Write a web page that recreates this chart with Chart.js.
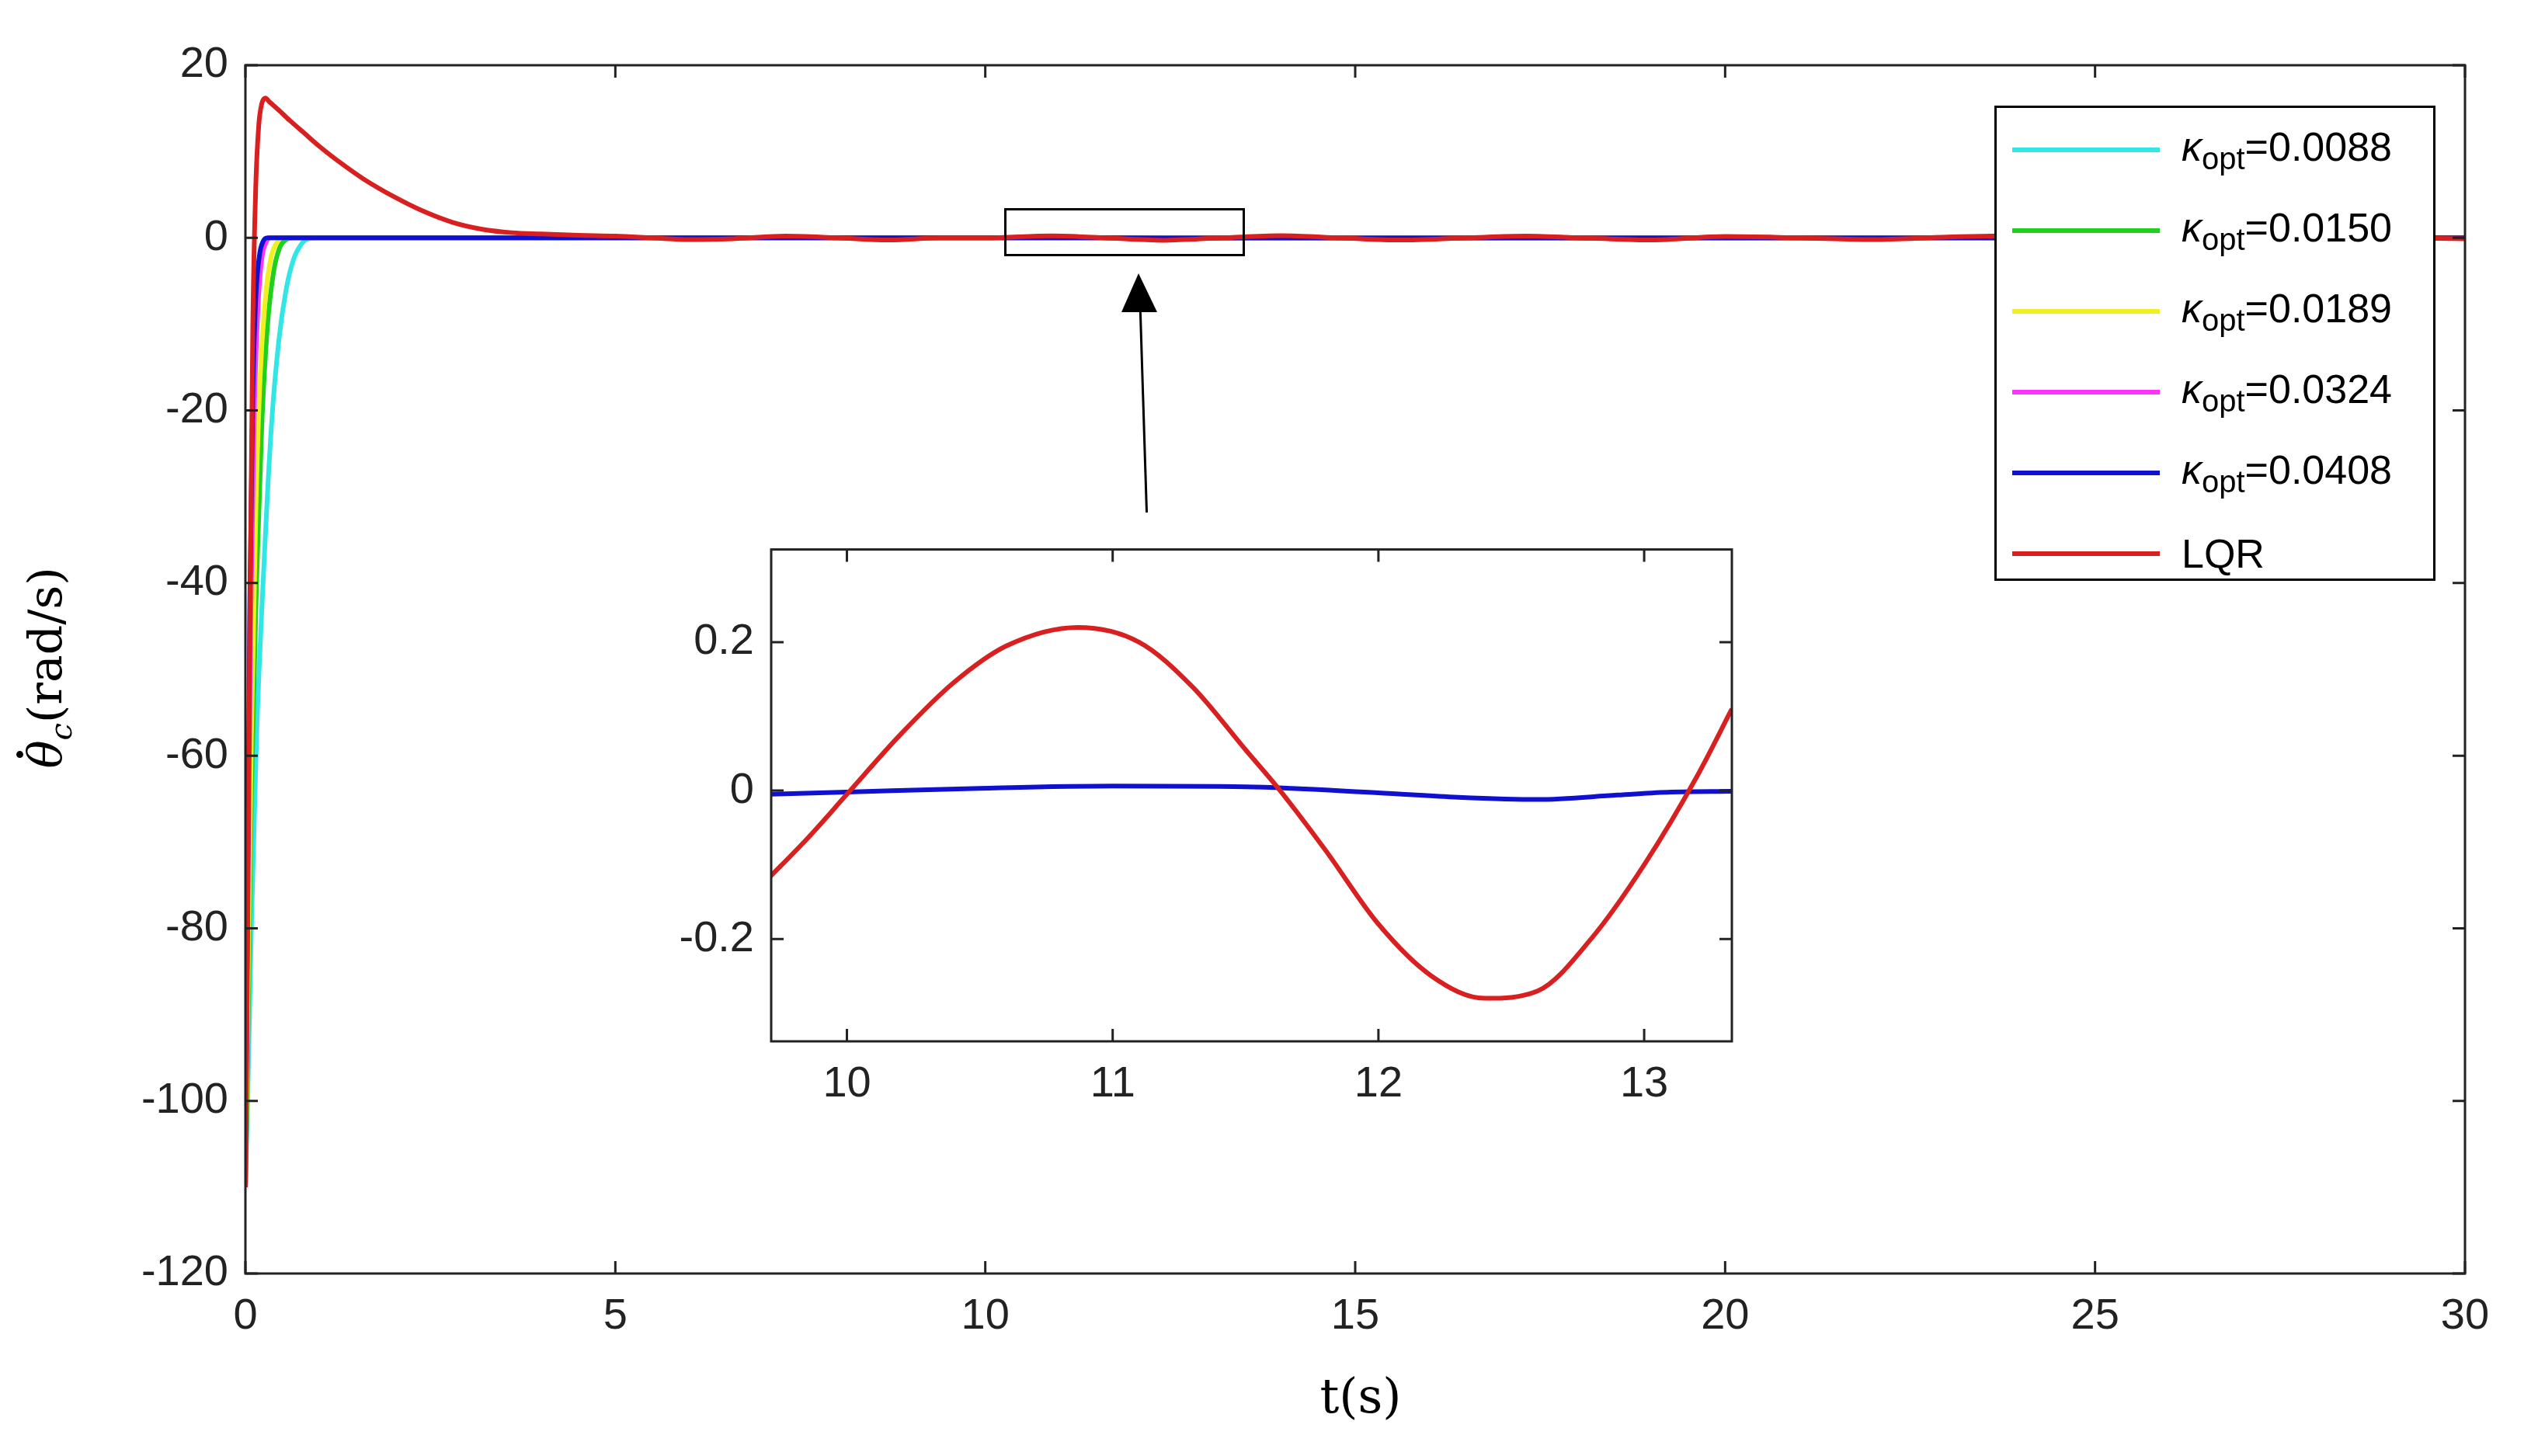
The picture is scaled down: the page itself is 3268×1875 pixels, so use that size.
<!DOCTYPE html><html><head><meta charset="utf-8">
<script src="https://cdn.jsdelivr.net/npm/chart.js@4"></script>
<style>
body{margin:0;background:#fff;width:3268px;height:1875px;position:relative;overflow:hidden;font-family:"Liberation Sans",Arial,sans-serif}
#main{position:absolute;left:0;top:0}
#insetWrap{position:absolute;left:820px;top:660px;width:1440px;height:800px;background:#fff}
#legend{position:absolute;left:2568px;top:136px;width:562px;height:606px;border:3px solid #000;background:#fff}
.row{position:absolute;left:20px;height:60px;display:flex;align-items:center;font-size:52px;color:#000}
.sw{width:190px;height:6px;margin-right:28px}
sub{font-size:40px}
#ylab{position:absolute;left:62px;top:860px;transform:translate(-50%,-50%) rotate(-90deg);font-family:"DejaVu Serif","Liberation Serif",serif;font-size:60px;white-space:nowrap}
#xlab{position:absolute;left:1752px;top:1797px;transform:translate(-50%,-50%);font-family:"DejaVu Serif","Liberation Serif",serif;font-size:62px}
#zoombox{position:absolute;left:1293px;top:268px;width:310px;height:62px;border:3px solid #000;box-sizing:border-box}
.th{position:relative;display:inline-block}
.th::before{content:"";position:absolute;left:50%;top:-2px;width:9px;height:9px;border-radius:50%;background:#000;transform:translateX(-50%)}
</style></head><body>
<canvas id="main" width="3268" height="1875"></canvas>
<div id="zoombox"></div>
<svg style="position:absolute;left:0;top:0" width="3268" height="1875">
<line x1="1477" y1="675" x2="1468" y2="390" stroke="#000" stroke-width="3"/>
<polygon points="1466,352 1444,402 1490,402" fill="#000"/></svg>
<div id="insetWrap"><canvas id="inset" width="1440" height="800"></canvas></div>
<div id="legend"></div>
<div id="ylab"><i class="th">θ</i><sub><i>c</i></sub>(rad/s)</div>
<div id="xlab">t(s)</div>
<script>
const seriesNames=["κopt=0.0088","κopt=0.0150","κopt=0.0189","κopt=0.0324","κopt=0.0408","LQR"];
const legendValues=["0.0088","0.0150","0.0189","0.0324","0.0408"];
const colors=["#33e6e6","#1fd01f","#f0f020","#ff33ff","#1010d0","#d92020"];
const xTicksMain=[0,5,10,15,20,25,30];
const yTicksMain=[-120,-100,-80,-60,-40,-20,0,20];
const cyanPts=[[0,-110],[0.03,-100],[0.08,-80],[0.15,-58],[0.25,-38],[0.35,-22],[0.45,-12],[0.55,-6],[0.65,-2.5],[0.75,-0.8],[0.85,-0.1],[1,0],[30,0]];
const greenPts=[[0,-110],[0.03,-95],[0.08,-65],[0.15,-40],[0.22,-22],[0.3,-10],[0.38,-4],[0.46,-1.2],[0.55,-0.2],[0.65,0],[30,0]];
const yellowPts=[[0,-110],[0.03,-90],[0.08,-58],[0.14,-32],[0.2,-16],[0.27,-7],[0.34,-2.5],[0.42,-0.6],[0.5,0],[30,0]];
const magentaPts=[[0,-110],[0.03,-80],[0.07,-45],[0.12,-20],[0.17,-8],[0.22,-2.5],[0.28,-0.5],[0.34,0],[30,0]];
const bluePts=[[0,-110],[0.03,-75],[0.06,-42],[0.1,-18],[0.14,-7],[0.19,-2],[0.24,-0.4],[0.3,0],[10,0],[11,0.01],[12.5,-0.01],[30,0]];
const lqrPts=[[0,-110],[0.03,-80],[0.06,-45],[0.1,-10],[0.14,6],[0.18,13],[0.22,15.5],[0.27,16.2],[0.32,15.8],[0.45,14.8],[0.6,13.6],[0.8,12.1],[1,10.6],[1.3,8.6],[1.6,6.8],[2,4.8],[2.4,3.1],[2.8,1.8],[3.2,1],[3.6,0.6],[4,0.45],[4.5,0.3],[5,0.2],[5.5,0],[6,-0.2],[6.6,-0.1],[7.3,0.2],[8,0],[8.7,-0.25],[9.4,0],[10,0],[10.9,0.22],[11.6,0],[12.4,-0.28],[13.2,0],[14,0.25],[14.8,0],[15.6,-0.25],[16.5,0],[17.3,0.2],[18.2,-0.05],[19,-0.25],[20,0.15],[21,0],[22,-0.2],[23,0.1],[24,0.25],[25,0],[26,-0.2],[27,0.05],[28,0.2],[29,0],[30,-0.1]];
const insetLqr=[[9.7,-0.12],[9.85,-0.065],[10.0,-0.005],[10.2,0.075],[10.4,0.145],[10.6,0.195],[10.87,0.22],[11.1,0.2],[11.3,0.14],[11.5,0.055],[11.63,0],[11.8,-0.08],[12.0,-0.18],[12.2,-0.25],[12.4,-0.28],[12.6,-0.27],[12.8,-0.2],[13.0,-0.1],[13.2,0.02],[13.33,0.11]];
const insetBlue=[[9.7,-0.005],[10,-0.002],[10.5,0.003],[11,0.006],[11.5,0.005],[12,-0.003],[12.3,-0.009],[12.6,-0.012],[12.9,-0.006],[13.1,-0.002],[13.33,-0.001]];
const insetXTicks=[10,11,12,13];
const insetYTicks=[-0.2,0,0.2];

const toXY=a=>a.map(p=>({x:p[0],y:p[1]}));
const frame={id:'frame',afterDraw(c){const a=c.chartArea,x=c.ctx;x.save();x.strokeStyle='#222';x.lineWidth=3;x.strokeRect(a.left,a.top,a.right-a.left,a.bottom-a.top);
 const L=16;const sx=c.scales.x,sy=c.scales.y;x.beginPath();
 sx.ticks.forEach(t=>{const p=sx.getPixelForValue(t.value);x.moveTo(p,a.bottom);x.lineTo(p,a.bottom-L);x.moveTo(p,a.top);x.lineTo(p,a.top+L);});
 sy.ticks.forEach(t=>{const p=sy.getPixelForValue(t.value);x.moveTo(a.left,p);x.lineTo(a.left+L,p);x.moveTo(a.right,p);x.lineTo(a.right-L,p);});
 x.stroke();x.restore();}};
function axes(xmin,xmax,xt,ymin,ymax,yt,yw,xh){
 const f={family:'"Liberation Sans",Arial',size:56};
 return {x:{type:'linear',min:xmin,max:xmax,afterBuildTicks:s=>{s.ticks=xt.map(v=>({value:v}))},ticks:{font:f,color:'#222',padding:14,maxRotation:0},grid:{display:false},border:{display:false},afterFit:s=>{s.height=xh}},
 y:{type:'linear',min:ymin,max:ymax,afterBuildTicks:s=>{s.ticks=yt.map(v=>({value:v}))},ticks:{font:f,color:'#222',padding:14},grid:{display:false},border:{display:false},afterFit:s=>{s.width=yw}}};
}
const mainData=[cyanPts,greenPts,yellowPts,magentaPts,bluePts,lqrPts];
new Chart(document.getElementById('main'),{type:'line',data:{datasets:mainData.map((d,i)=>({label:seriesNames[i],data:toXY(d),borderColor:colors[i],borderWidth:6,pointRadius:0,order:5-i,cubicInterpolationMode:'monotone'}))},
 options:{responsive:false,animation:false,plugins:{legend:{display:false},tooltip:{enabled:false}},layout:{padding:{left:0,right:94,top:84,bottom:0}},scales:axes(0,30,xTicksMain,-120,20,yTicksMain,316,235)},plugins:[frame]});
new Chart(document.getElementById('inset'),{type:'line',data:{datasets:[{data:toXY(insetBlue),borderColor:colors[4],borderWidth:6,pointRadius:0,order:1,cubicInterpolationMode:'monotone'},{data:toXY(insetLqr),borderColor:colors[5],borderWidth:6,pointRadius:0,order:0,cubicInterpolationMode:'monotone'}]},
 options:{responsive:false,animation:false,plugins:{legend:{display:false},tooltip:{enabled:false}},layout:{padding:{left:0,right:30,top:31,bottom:0}},scales:axes(9.715,13.33,insetXTicks,-0.338,0.325,insetYTicks,173,119)},plugins:[frame]});
const lg=document.getElementById('legend');
for(let i=0;i<6;i++){const r=document.createElement('div');r.className='row';r.style.top=(24+i*104)+'px';
 r.innerHTML='<div class="sw" style="background:'+colors[i]+'"></div>'+(i<5?'<span><i>κ</i><sub>opt</sub>='+legendValues[i]+'</span>':'<span>'+seriesNames[5]+'</span>');lg.appendChild(r);}
</script></body></html>
